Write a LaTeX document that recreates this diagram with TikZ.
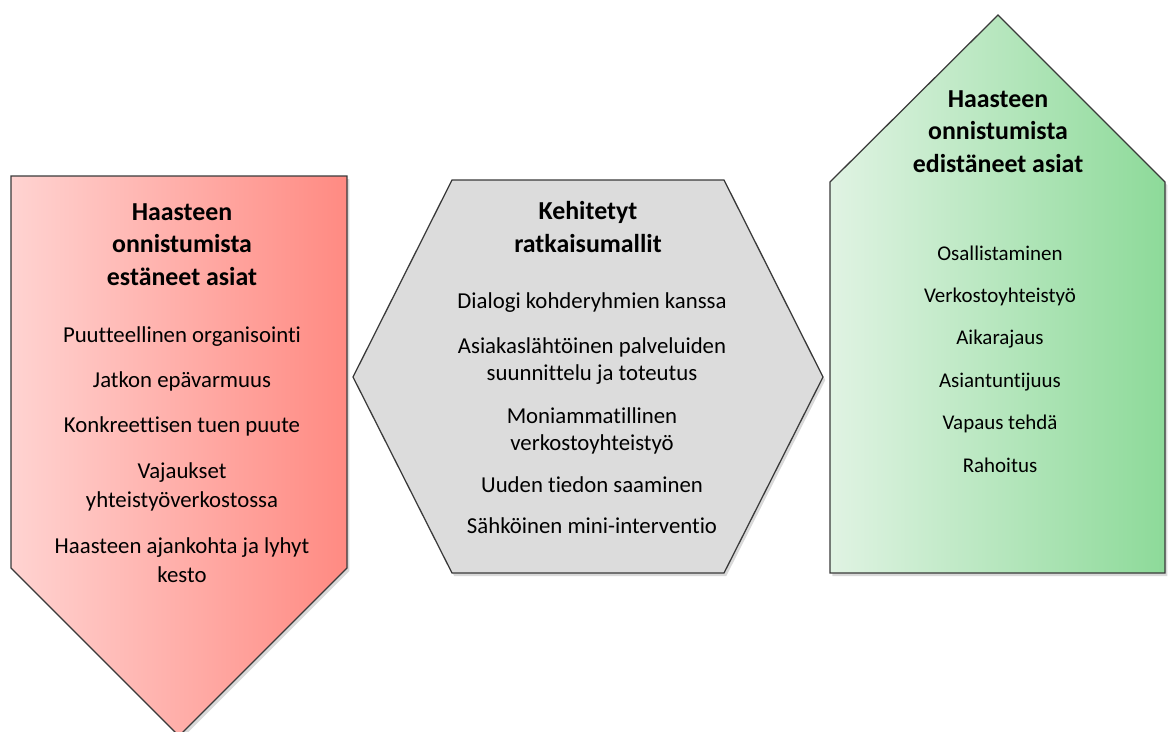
\documentclass[tikz,border=0pt]{standalone}
\usepackage{fontspec}
\setmainfont{Carlito}[Ligatures=NoCommon]
\usepackage{xcolor}
\usetikzlibrary{shadows}

\definecolor{redlight}{HTML}{FFD3D1}
\definecolor{reddark}{HTML}{FF8A82}
\definecolor{greenlight}{HTML}{E0F3E3}
\definecolor{greendark}{HTML}{8DDA99}
\definecolor{hexgray}{HTML}{DCDCDC}
\definecolor{edge}{HTML}{3A3A3A}

\begin{document}
\begin{tikzpicture}[x=0.025cm, y=-0.025cm,
  panel/.style={draw=edge, line width=0.9pt, line join=miter,
    drop shadow={shadow xshift=1.6pt, shadow yshift=-2.2pt, opacity=0.3}},
  title/.style={font=\fontsize{18.4}{23.1}\selectfont\bfseries, align=center, anchor=base},
  item/.style={font=\fontsize{16.2}{20.6}\selectfont, align=center, anchor=base},
  itemtight/.style={font=\fontsize{16.2}{19.2}\selectfont, align=center, anchor=base},
  itemsmall/.style={font=\fontsize{14.9}{18}\selectfont, align=center, anchor=base}]

\useasboundingbox (0,0) rectangle (1168,731);

% left: arrow pointing down
\begin{scope}
\clip (0,0) rectangle (1168,731);
\draw[panel, left color=redlight, right color=reddark]
  (11,176)--(347,176)--(347,568)--(179,736)--(11,568)--cycle;
\end{scope}

% middle: hexagon
\draw[panel, fill=hexgray]
  (452,180)--(724,180)--(823,377)--(724,573)--(452,573)--(353,377)--cycle;

% right: house
\draw[panel, left color=greenlight, right color=greendark]
  (830,573)--(1165,573)--(1165,182)--(998,15)--(830,182)--cycle;

% texts left (base = last line)
\node[title] (lt) at (182,285) {Haasteen\\onnistumista\\estäneet asiat};
\node[item] (l1) at (182,342) {Puutteellinen organisointi};
\node[item] (l2) at (182,387) {Jatkon epävarmuus};
\node[item] (l3) at (182,432) {Konkreettisen tuen puute};
\node[item] (l4) at (182,507) {Vajaukset\\yhteistyöverkostossa};
\node[item] (l5) at (182,582) {Haasteen ajankohta ja lyhyt\\kesto};

% texts middle
\node[title] (mt) at (588,252) {Kehitetyt\\ratkaisumallit};
\node[itemtight] (m1) at (592,308) {Dialogi kohderyhmien kanssa};
\node[itemtight] (m2) at (592,380) {Asiakaslähtöinen palveluiden\\suunnittelu ja toteutus};
\node[itemtight] (m3) at (592,450) {Moniammatillinen\\verkostoyhteistyö};
\node[itemtight] (m4) at (592,492) {Uuden tiedon saaminen};
\node[itemtight] (m5) at (592,533) {Sähköinen mini-interventio};

% texts right
\node[title] (rt) at (998,172) {Haasteen\\onnistumista\\edistäneet asiat};
\foreach \t [count=\i] in {Osallistaminen, Verkostoyhteistyö, Aikarajaus,
    Asiantuntijuus, Vapaus tehdä, Rahoitus}{
  \node[itemsmall] (r\i) at (1000,{260+42.4*(\i-1)}) {\t};
}

\end{tikzpicture}
\end{document}
